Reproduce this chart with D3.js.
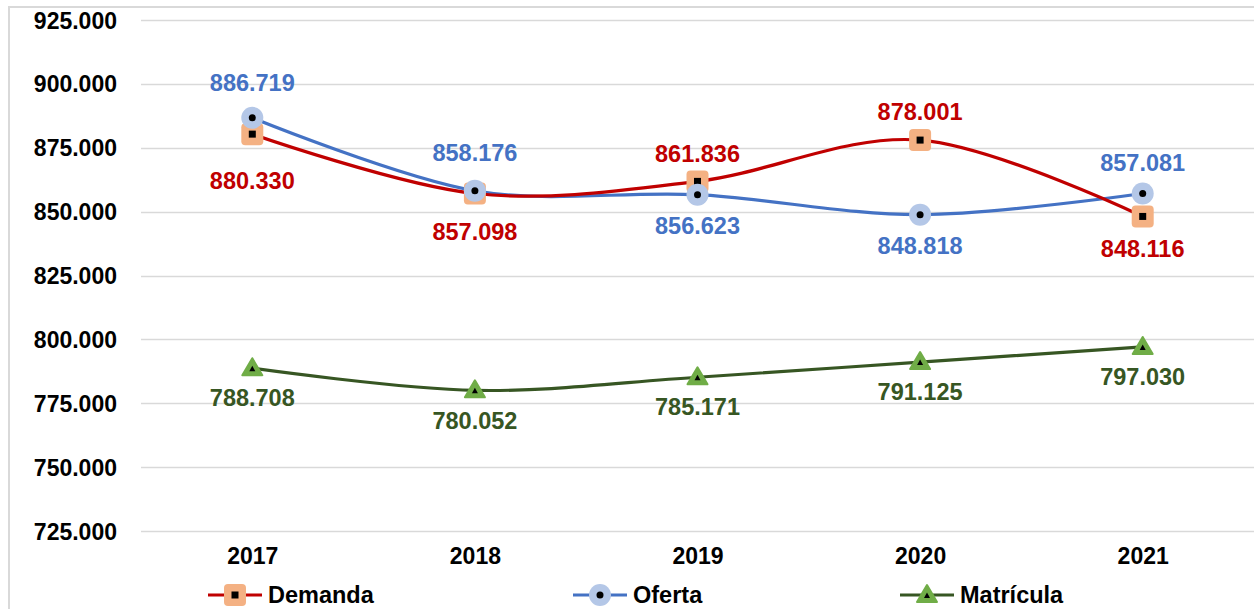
<!DOCTYPE html>
<html>
<head>
<meta charset="utf-8">
<script src="https://cdn.jsdelivr.net/npm/d3@7"></script>
<style>
	body{margin:0;background:#fff;}
	svg{display:block;font-family:"Liberation Sans",Arial,sans-serif;font-weight:bold;}
</style>
</head>
<body>
<svg id="chart" width="1254" height="609"></svg>
<script>
// data
var years = ["2017", "2018", "2019", "2020", "2021"];
var demanda = [880330, 857098, 861836, 878001, 848116];
var oferta = [886719, 858176, 856623, 848818, 857081];
var matricula = [788708, 780052, 785171, 791125, 797030];
var yTicks = [725000, 750000, 775000, 800000, 825000, 850000, 875000, 900000, 925000];
// label shift from its point (px, + below, - above)
var demandaShift = [47, 38, -28, -28, 32];
var ofertaShift = [-35, -38, 31, 31, -31];
var matriculaShift = [30, 30, 30, 30, 30];

var series = [
	{name: "Demanda", values: demanda, shift: demandaShift, line: "#C00000", fill: "#F4B183", label: "#C00000", shape: "square"},
	{name: "Oferta", values: oferta, shift: ofertaShift, line: "#4472C4", fill: "#B4C7E7", label: "#4472C4", shape: "circle"},
	{name: "Matrícula", values: matricula, shift: matriculaShift, line: "#375623", fill: "#70AD47", label: "#375623", shape: "triangle"}
];

var svg = d3.select("#chart");
var plotL = 141, plotR = 1254, plotT = 20, plotB = 531;

var x = d3.scalePoint().domain(years).range([plotL, plotR]).padding(0.5);
var y = d3.scaleLinear().domain([725000, 925000]).range([plotB, plotT]);

function label(v){
	// 880330 -> 880.330
	return d3.format(",")(v).replace(/,/g, ".");
}

// frame
svg.append("path").attr("d", "M9,609V7H1254")
	.attr("fill", "none").attr("stroke", "#D9D9D9").attr("stroke-width", 2);

// grid
svg.append("g").selectAll("line").data(yTicks).enter().append("line")
	.attr("x1", plotL).attr("x2", plotR)
	.attr("y1", function(d){ return Math.round(y(d)) + 0.5; })
	.attr("y2", function(d){ return Math.round(y(d)) + 0.5; })
	.attr("stroke", "#D9D9D9").attr("stroke-width", 1.3);

// y axis labels
var yAxis = d3.axisLeft(y).tickValues(yTicks).tickSize(0).tickPadding(0)
	.tickFormat(function(d){ return label(d); });
var ya = svg.append("g").attr("transform", "translate(117,0)").call(yAxis);
ya.select(".domain").remove();
ya.selectAll("text").attr("font-size", "23px").attr("font-family", "Liberation Sans, Arial, sans-serif")
	.attr("font-weight", "bold").attr("fill", "#000").attr("dy", "0.35em");

// x axis labels
var xAxis = d3.axisBottom(x).tickSize(0).tickPadding(0);
var xa = svg.append("g").attr("transform", "translate(0,548)").call(xAxis);
xa.select(".domain").remove();
xa.selectAll("text").attr("font-size", "23px").attr("font-family", "Liberation Sans, Arial, sans-serif")
	.attr("font-weight", "bold").attr("fill", "#000");

var lineGen = d3.line()
	.x(function(d, i){ return x(years[i]); })
	.y(function(d){ return y(d); })
	.curve(d3.curveCardinal.tension(0));

function drawMarker(g, s){
	if(s.shape == "square"){
		g.append("rect").attr("x", -11).attr("y", -11).attr("width", 22).attr("height", 22)
			.attr("rx", 4).attr("fill", s.fill);
		g.append("rect").attr("x", -3.5).attr("y", -3.5).attr("width", 7).attr("height", 7).attr("fill", "#000");
	} else if(s.shape == "circle"){
		g.append("circle").attr("r", 11).attr("fill", s.fill);
		g.append("circle").attr("r", 3.5).attr("fill", "#000");
	} else {
		g.append("path").attr("d", "M0,-10L10,7L-10,7Z").attr("fill", s.fill)
			.attr("stroke", s.fill).attr("stroke-linejoin", "round").attr("stroke-width", 2);
		g.append("path").attr("d", "M0,-2.5L3,3L-3,3Z").attr("fill", "#000");
	}
}

// lines, markers, labels
[series[2], series[1], series[0]].forEach(function(s){
	svg.append("path").datum(s.values).attr("d", lineGen)
		.attr("fill", "none").attr("stroke", s.line).attr("stroke-width", 3.2);
});
[series[2], series[0], series[1]].forEach(function(s){
	s.values.forEach(function(v, i){
		var g = svg.append("g").attr("transform", "translate(" + x(years[i]) + "," + y(v) + ")");
		drawMarker(g, s);
	});
});
series.forEach(function(s){
	svg.append("g").selectAll("text").data(s.values).enter().append("text")
		.attr("x", function(d, i){ return x(years[i]); })
		.attr("y", function(d, i){ return y(d) + s.shift[i]; })
		.attr("dy", "0.35em")
		.attr("text-anchor", "middle")
		.attr("font-size", "23.5px")
		.attr("fill", s.label)
		.text(function(d){ return label(d); });
});

// legend
var legendX = [208, 573, 900];
series.forEach(function(s, i){
	var g = svg.append("g").attr("transform", "translate(" + legendX[i] + ",595)");
	g.append("line").attr("x1", 0).attr("x2", 54).attr("stroke", s.line).attr("stroke-width", 3.2);
	var m = g.append("g").attr("transform", "translate(27,0)");
	drawMarker(m, s);
	g.append("text").attr("x", 60).attr("dy", "0.35em").attr("font-size", "23.5px")
		.attr("fill", "#000").text(s.name);
});
</script>
</body>
</html>
